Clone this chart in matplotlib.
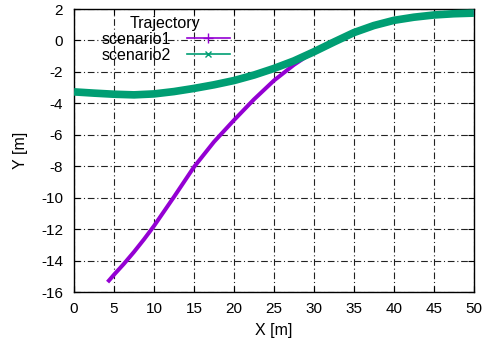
import matplotlib
matplotlib.use("Agg")
import matplotlib.pyplot as plt
from matplotlib.lines import Line2D

plt.rcParams['font.family'] = ['Liberation Sans', 'DejaVu Sans']
plt.rcParams['axes.unicode_minus'] = False

# Data
s1_x = [4.2, 5, 6.25, 7.5, 8.75, 10, 12.5, 15, 17.5, 20, 22.5, 25, 27.5, 30, 32.5, 35, 37.5, 40, 42.5, 45, 47.5, 50]
s1_y = [-15.37, -14.9, -14.2, -13.45, -12.65, -11.8, -9.95, -8.05, -6.45, -5.07, -3.75, -2.55, -1.55, -0.7,
        -0.1, 0.5, 0.95, 1.28, 1.48, 1.62, 1.7, 1.74]

s2_x = [0, 2.5, 5, 7.5, 10, 12.5, 15, 17.5, 20, 22.5, 25, 27.5, 30, 32.5, 35, 37.5, 40, 42.5, 45, 47.5, 50]
s2_y = [-3.27, -3.35, -3.42, -3.46, -3.4, -3.25, -3.05, -2.82, -2.55, -2.2, -1.78, -1.3, -0.72,
        -0.1, 0.5, 0.95, 1.28, 1.48, 1.62, 1.7, 1.74]

x_ticks = [0, 5, 10, 15, 20, 25, 30, 35, 40, 45, 50]
y_ticks = [2, 0, -2, -4, -6, -8, -10, -12, -14, -16]

c1 = '#9400D3'
c2 = '#009E73'

fig = plt.figure(figsize=(4.87, 3.47), dpi=100)
ax = fig.add_axes([0.152, 0.1585, 0.821, 0.8155])

ax.plot(s1_x, s1_y, color=c1, lw=2.9, solid_capstyle='butt', zorder=3)
ax.plot(s2_x, s2_y, color=c2, lw=5.5, solid_capstyle='butt', zorder=4)

ax.set_xlim(0, 50)
ax.set_ylim(-16, 2)
ax.set_xticks(x_ticks)
ax.set_yticks(y_ticks)
ax.tick_params(direction='in', top=True, right=True, labelsize=11, length=4, width=0.8)
ax.tick_params(axis='y', pad=8)
ax.tick_params(axis='x', pad=7)
ax.grid(True, color='#222222', lw=0.8, linestyle=(0, (6, 2.5, 1, 2.5)))
for sp in ax.spines.values():
    sp.set_linewidth(1.0)
ax.set_xlabel('X [m]', fontsize=11.5, labelpad=5)
ax.set_ylabel('Y [m]', fontsize=11.5, labelpad=9)

handles = [Line2D([0, 0.5, 1], [0, 0, 0], color=c1, lw=1.2, marker='+', markersize=7, markevery=[1]),
           Line2D([0, 0.5, 1], [0, 0, 0], color=c2, lw=1.2, marker='x', markersize=4, markevery=[1])]
leg = ax.legend(handles, ['scenario1', 'scenario2'], title='Trajectory', markerfirst=False,
                frameon=False, fontsize=11.5, title_fontsize=11.5, loc='upper left',
                bbox_to_anchor=(0.04, 1.015), handlelength=2.7, handletextpad=1.0,
                labelspacing=0.05, borderpad=0.2)
leg.set_zorder(5)

fig.savefig('out.png', dpi=100)
